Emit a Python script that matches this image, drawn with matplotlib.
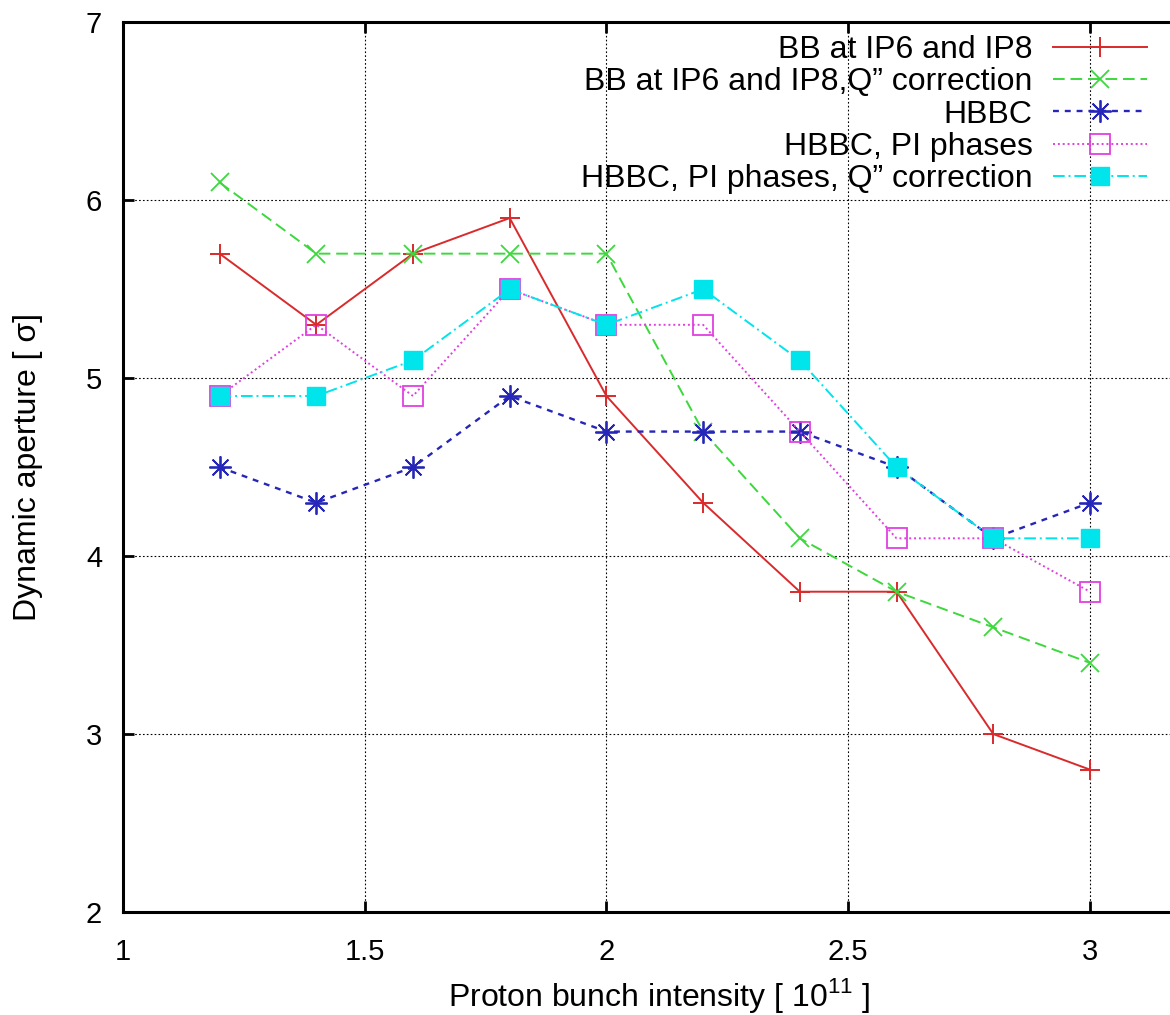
import matplotlib
matplotlib.use("Agg")
import matplotlib.pyplot as plt

plt.rcParams['font.family'] = ['Liberation Sans', 'DejaVu Sans']
plt.rcParams['mathtext.fontset'] = 'custom'
plt.rcParams['mathtext.rm'] = 'Liberation Sans'

intensity = [1.2, 1.4, 1.6, 1.8, 2.0, 2.2, 2.4, 2.6, 2.8, 3.0]
bb = [5.7, 5.3, 5.7, 5.9, 4.9, 4.3, 3.8, 3.8, 3.0, 2.8]
bb_q = [6.1, 5.7, 5.7, 5.7, 5.7, 4.7, 4.1, 3.8, 3.6, 3.4]
hbbc = [4.5, 4.3, 4.5, 4.9, 4.7, 4.7, 4.7, 4.5, 4.1, 4.3]
hbbc_pi = [4.9, 5.3, 4.9, 5.5, 5.3, 5.3, 4.7, 4.1, 4.1, 3.8]
hbbc_pi_q = [4.9, 4.9, 5.1, 5.5, 5.3, 5.5, 5.1, 4.5, 4.1, 4.1]

labels = ["BB at IP6 and IP8",
          "BB at IP6 and IP8,Q\u201d correction",
          "HBBC",
          "HBBC, PI phases",
          "HBBC, PI phases, Q\u201d correction"]

xticks = [1, 1.5, 2, 2.5, 3]
xticklabels = ['1', '1.5', '2', '2.5', '3']
yticks = [2, 3, 4, 5, 6, 7]

fig = plt.figure(figsize=(11.7, 10.15), dpi=100)
ax = fig.add_axes([0.105, 0.1015, 0.895, 0.8765])

ax.plot(intensity, bb, color='#d92a2c', lw=1.4, ls='-', marker='+',
        ms=14, mew=1.4, label=labels[0])
ax.plot(intensity, bb_q, color='#3cd83c', lw=1.4, ls=(0, (6, 3)), marker='x',
        ms=13, mew=1.3, label=labels[1])
ax.plot(intensity, hbbc, color='#2626b8', lw=1.7, ls=(0, (2.5, 2.5)), marker=(8, 2, 0),
        ms=16, mew=1.3, label=labels[2])
ax.plot(intensity, hbbc_pi, color='#e040e0', lw=1.4, ls=(0, (1, 1.5)), marker='s',
        ms=14, mew=1.3, mfc='none', label=labels[3])
ax.plot(intensity, hbbc_pi_q, color='#00e4ec', lw=1.4, ls=(0, (6, 2, 1, 2)), marker='s',
        ms=13, mew=1.0, label=labels[4])

ax.set_xlim(1, 1 + (1170 - 123) / 483.5)
ax.set_ylim(2, 7)
ax.set_xticks(xticks)
ax.set_xticklabels(xticklabels)
ax.set_yticks(yticks)
ax.grid(True, color='black', ls=(0, (1.5, 2)), lw=0.8)

for s in ['left', 'bottom', 'top']:
    ax.spines[s].set_linewidth(2.2)
ax.spines['right'].set_visible(False)

ax.tick_params(axis='both', direction='in', length=8, width=2, labelsize=21,
               top=True, right=False)
ax.tick_params(axis='x', pad=19)
ax.tick_params(axis='y', pad=15)

ax.set_xlabel("Proton bunch intensity [ 10$^{11}$ ]", fontsize=23)
ax.set_ylabel("Dynamic aperture [ \u03c3]", fontsize=23)
ax.xaxis.set_label_coords(0.512, -0.072)
ax.yaxis.set_label_coords(-0.0764, 0.5)

leg = ax.legend(loc='upper right', bbox_to_anchor=(0.990, 1.0), frameon=False,
                markerfirst=False, fontsize=23, handlelength=2.95,
                handletextpad=0.63, labelspacing=0.07, borderaxespad=0.1,
                borderpad=0.3)

fig.savefig("out.png", dpi=100)
